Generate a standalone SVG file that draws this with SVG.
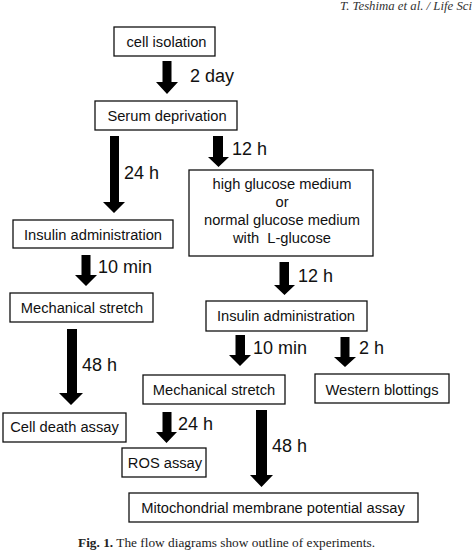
<svg xmlns="http://www.w3.org/2000/svg" width="474" height="555" viewBox="0 0 474 555">
<style>
.box{fill:#fff;stroke:#111;stroke-width:1.3}
.t{font-family:"Liberation Sans",Arial,sans-serif;font-size:14.7px;fill:#111;text-anchor:middle}
.lbl{font-family:"Liberation Sans",Arial,sans-serif;font-size:18px;fill:#111}
.arr{fill:#000}
.cap{font-family:"Liberation Serif","Times New Roman",serif;font-size:13px;fill:#222}
</style>
<rect width="474" height="555" fill="#fff"/>
<text x="340" y="10" font-family="Liberation Serif,serif" font-style="italic" font-size="12" fill="#333" textLength="132" lengthAdjust="spacingAndGlyphs">T. Teshima et al. / Life Sci</text>

<g id="connectors">
<path class="arr" d="M162.5 61H171.5V82H178L167 94L156 82H162.5Z"/>
<text class="lbl" x="190" y="82">2 day</text>
<path class="arr" d="M110 136H119V202H125L114 213L103 202H110Z"/>
<text class="lbl" x="124" y="179">24 h</text>
<path class="arr" d="M213 136H223V157H229L218.5 167L208 157H213Z"/>
<text class="lbl" x="232" y="155">12 h</text>
<path class="arr" d="M81.5 255H90.5V275H97L86 286L75 275H81.5Z"/>
<text class="lbl" x="98" y="273">10 min</text>
<path class="arr" d="M67 329H77V393H83L71 405L59 393H67Z"/>
<text class="lbl" x="82" y="371">48 h</text>
<path class="arr" d="M279.5 262H289V285H295L284.5 295L274 285H279.5Z"/>
<text class="lbl" x="298" y="282">12 h</text>
<path class="arr" d="M235.5 335H245V355H251L240 366L229 355H235.5Z"/>
<text class="lbl" x="253" y="354">10 min</text>
<path class="arr" d="M340.5 337H349.5V357H356L345 367L334 357H340.5Z"/>
<text class="lbl" x="359" y="354">2 h</text>
<path class="arr" d="M162.5 412H171.5V432H177L166.5 443L156 432H162.5Z"/>
<text class="lbl" x="178" y="430">24 h</text>
<path class="arr" d="M256 410H267V475H273L261.5 487L250 475H256Z"/>
<text class="lbl" x="272" y="452">48 h</text>
</g>

<g id="cell-isolation"><rect class="box" x="114" y="27" width="101" height="29"/><text class="t" x="166.5" y="47">cell isolation</text></g>
<g id="serum-deprivation"><rect class="box" x="95" y="101" width="142" height="29"/><text class="t" x="167" y="121">Serum deprivation</text></g>
<g id="glucose-medium"><rect class="box" x="189" y="170" width="184" height="86"/>
<text class="t" x="282" y="189">high glucose medium</text>
<text class="t" x="282" y="207">or</text>
<text class="t" x="282" y="225">normal glucose medium</text>
<text class="t" x="282" y="243" xml:space="preserve">with  L-glucose</text></g>
<g id="insulin-left"><rect class="box" x="13" y="220" width="160" height="28"/><text class="t" x="93" y="240">Insulin administration</text></g>
<g id="stretch-left"><rect class="box" x="10" y="293" width="143" height="29"/><text class="t" x="82" y="313">Mechanical stretch</text></g>
<g id="insulin-right"><rect class="box" x="206" y="301" width="161" height="30"/><text class="t" x="286" y="321">Insulin administration</text></g>
<g id="stretch-right"><rect class="box" x="143" y="375" width="142" height="29"/><text class="t" x="214" y="395">Mechanical stretch</text></g>
<g id="western"><rect class="box" x="315" y="374" width="134" height="29"/><text class="t" x="382" y="395">Western blottings</text></g>
<g id="cell-death"><rect class="box" x="3" y="413" width="123" height="29"/><text class="t" x="64.5" y="432">Cell death assay</text></g>
<g id="ros"><rect class="box" x="122" y="448" width="84" height="29"/><text class="t" x="165" y="468">ROS assay</text></g>
<g id="mito"><rect class="box" x="129" y="493" width="289" height="29"/><text class="t" x="273" y="513">Mitochondrial membrane potential assay</text></g>

<text class="cap" x="78" y="547" textLength="297" lengthAdjust="spacingAndGlyphs"><tspan font-weight="bold">Fig. 1.</tspan> The flow diagrams show outline of experiments.</text>
</svg>
